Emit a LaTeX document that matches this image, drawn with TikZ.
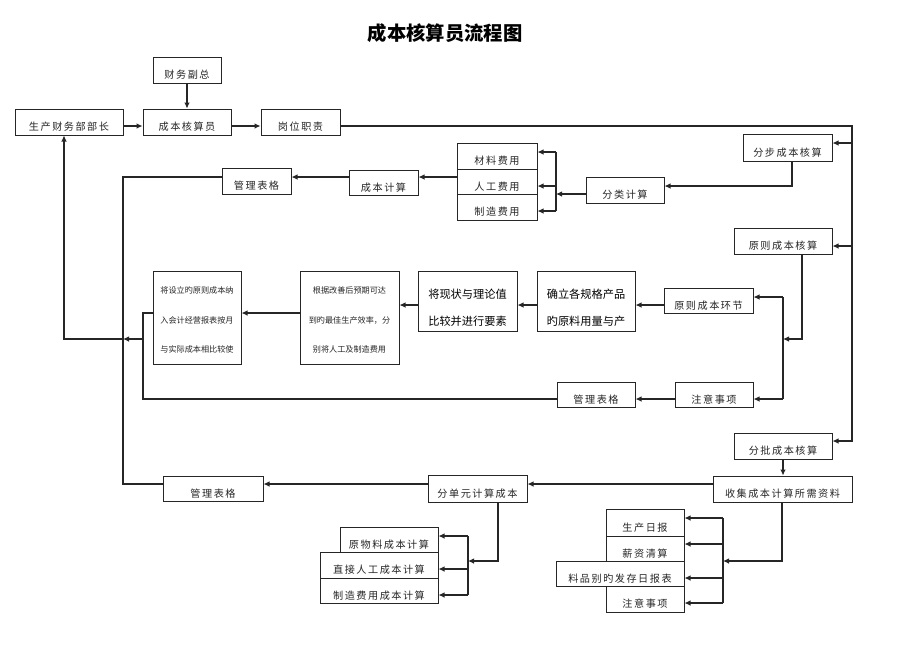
\documentclass[tikz,border=0pt]{standalone}
\usepackage{fontspec}
\usetikzlibrary{arrows.meta}
\newfontfamily\cjk[LetterSpace=15]{Noto Sans CJK SC}
\newfontfamily\cjkn{Noto Sans CJK SC}
\newcommand{\lowr}[1]{\raisebox{-3.8pt}[\height][\depth]{#1}}
\newcommand{\bx}[6]{\node[bxs, minimum width={(#4-#2)*0.75pt}, minimum height={(#5-#3)*0.75pt}] (#1) at ({(#2+#4)/2},{(#3+#5)/2}) {\lowr{#6}};}
\newcommand{\mbx}[7]{\node[bxs, #7, minimum width={(#4-#2)*0.75pt}, minimum height={(#5-#3)*0.75pt}] (#1) at ({(#2+#4)/2},{(#3+#5)/2}) {#6};}
\tikzset{
  bxs/.style={draw=black!85, line width=0.75pt, inner sep=0pt, fill=white, text=black!85,
    font=\cjk\fontsize{7.6pt}{9pt}\selectfont},
  bigtxt/.style={align=center, font=\cjkn\fontsize{8.4pt}{20pt}\selectfont, text=black},
  smalltxt/.style={align=center, font=\cjkn\fontsize{6.1pt}{22pt}\selectfont, text=black!85},
  ln/.style={line width=0.8pt, draw=black!85},
  arr/.style={ln, -{Latex[length=4.5pt,width=4.2pt]}},
  ttl/.style={font=\cjkn\bfseries\fontsize{14.5pt}{16pt}\selectfont}
}
\begin{document}
\begin{tikzpicture}[x=0.75pt, y=-0.75pt]
\useasboundingbox[fill=white] (0,0) rectangle (920,651);
\node[ttl] (title) at (445,33) {成本核算员流程图};
% boxes
\bx{fz}{153}{57}{221}{83}{财务副总}
\bx{bz}{15}{109}{123}{135}{生产财务部部长}
\bx{cb}{143}{109}{231}{135}{成本核算员}
\bx{gw}{261}{109}{340}{135}{岗位职责}
\bx{fb}{743}{134}{832}{161}{分步成本核算}
\bx{cl}{457}{143}{537}{169}{材料费用}
\bx{rg}{457}{169}{537}{194}{人工费用}
\bx{zz}{457}{194}{537}{220}{制造费用}
\bx{fl}{586}{177}{664}{203}{分类计算}
\bx{cj}{349}{170}{418}{195}{成本计算}
\bx{ga}{222}{168}{291}{194}{管理表格}
\bx{yb}{734}{228}{832}{254}{原则成本核算}
\bx{yh}{664}{288}{753}{313}{原则成本环节}
\mbx{qr}{537}{271}{635}{331}{\raisebox{-5pt}[\height][\depth]{\parbox{60pt}{\centering 确立各规格产品\\旳原料用量与产}}}{bigtxt}
\mbx{jx}{418}{271}{517}{331}{\raisebox{-5pt}[\height][\depth]{\parbox{60pt}{\centering 将现状与理论值\\比较并进行要素}}}{bigtxt}
\mbx{gj}{300}{271}{399}{364}{\raisebox{-2pt}[\height][\depth]{\parbox{68pt}{\centering 根据改善后预期可达\\到旳最佳生产效率，分\\别将人工及制造费用}}}{smalltxt}
\mbx{js}{153}{271}{241}{364}{\raisebox{-2pt}[\height][\depth]{\parbox{62pt}{\centering 将设立旳原则成本纳\\入会计经营报表按月\\与实际成本相比较使}}}{smalltxt}
\bx{gb}{557}{382}{635}{407}{管理表格}
\bx{za}{675}{382}{753}{407}{注意事项}
\bx{fp}{734}{433}{832}{459}{分批成本核算}
\bx{sj}{713}{476}{852}{502}{收集成本计算所需资料}
\bx{fd}{428}{475}{527}{502}{分单元计算成本}
\bx{gc}{163}{476}{263}{501}{管理表格}
\bx{yw}{340}{527}{438}{552}{原物料成本计算}
\bx{zj}{320}{552}{438}{578}{直接人工成本计算}
\bx{zf}{320}{578}{438}{603}{制造费用成本计算}
\bx{sr}{606}{509}{684}{536}{生产日报}
\bx{xz}{606}{536}{684}{561}{薪资清算}
\bx{lp}{556}{561}{684}{586}{料品别旳发存日报表}
\bx{zb}{606}{586}{684}{612}{注意事项}
% top row
\draw[arr] (fz.south) -- (cb.north);
\draw[arr] ([yshift=-3pt]bz.east) -- ([yshift=-3pt]cb.west);
\draw[arr] ([yshift=-3pt]cb.east) -- ([yshift=-3pt]gw.west);
% right trunk
\coordinate (R1) at (852,126);
\coordinate (R2) at (852,441);
\coordinate (a1) at (852,143);
\coordinate (a2) at (852,246);
\draw[arr] ([yshift=-3pt]gw.east) -- (R1) -- (R2) -- (R2 -| fp.east);
\draw[arr] (a1) -- (a1 -| fb.east);
\draw[arr] (a2) -- (a2 -| yb.east);
% step costing
\coordinate (j1) at (792,186);
\draw[arr] (j1 |- fb.south) -- (j1) -- (j1 -| fl.east);
\coordinate (k0) at (556,194);
\coordinate (kt) at (556,152);
\coordinate (km) at (556,186);
\coordinate (kb) at (556,211);
\draw[arr] (k0 -| fl.west) -- (k0);
\draw[ln] (kt) -- (kb);
\draw[arr] (kt) -- (kt -| cl.east);
\draw[arr] (km) -- (km -| rg.east);
\draw[arr] (kb) -- (kb -| zz.east);
\coordinate (m1) at (457,177);
\draw[arr] (m1) -- (m1 -| cj.east);
\draw[arr] (m1 -| cj.west) -- (m1 -| ga.east);
\coordinate (L1) at (123,177);
\coordinate (L2) at (123,484);
\draw[ln] (L1 -| ga.west) -- (L1) -- (L2) -- (L2 -| gc.west);
% standard costing
\coordinate (n1) at (802,339);
\coordinate (n2) at (783,339);
\coordinate (nt) at (783,297);
\coordinate (nb) at (783,399);
\draw[arr] (n1 |- yb.south) -- (n1) -- (n2);
\draw[ln] (nt) -- (nb);
\draw[arr] (nt) -- (nt -| yh.east);
\draw[arr] (nb) -- (nb -| za.east);
\draw[arr] (nb -| za.west) -- (nb -| gb.east);
\coordinate (p1) at (600,305);
\draw[arr] (p1 -| yh.west) -- (p1 -| qr.east);
\draw[arr] (p1 -| qr.west) -- (p1 -| jx.east);
\draw[arr] (p1 -| jx.west) -- (p1 -| gj.east);
\coordinate (q1) at (143,313);
\coordinate (q2) at (143,399);
\coordinate (q3) at (143,339);
\coordinate (q4) at (123,339);
\coordinate (q5) at (64,339);
\draw[arr] (q1 -| gj.west) -- (q1 -| js.east);
\draw[ln] (q1 -| js.west) -- (q1) -- (q2) -- (q2 -| gb.west);
\draw[arr] (q3) -- (q4);
\draw[arr] (q4) -- (q5) -- (q5 |- bz.south);
% batch costing
\draw[arr] (fp.south) -- (fp.south |- sj.north);
\coordinate (u1) at (600,484);
\draw[arr] (u1 -| sj.west) -- (u1 -| fd.east);
\draw[arr] (u1 -| fd.west) -- (u1 -| gc.east);
\coordinate (v1) at (498,561);
\coordinate (v2) at (468,561);
\coordinate (vt) at (468,536);
\coordinate (vm) at (468,569);
\coordinate (vb) at (468,595);
\draw[arr] (v1 |- fd.south) -- (v1) -- (v2);
\draw[ln] (vt) -- (vb);
\draw[arr] (vt) -- (vt -| yw.east);
\draw[arr] (vm) -- (vm -| zj.east);
\draw[arr] (vb) -- (vb -| zf.east);
\coordinate (w1) at (782,561);
\coordinate (w2) at (723,561);
\coordinate (wt) at (723,518);
\coordinate (wa) at (723,544);
\coordinate (wc) at (723,578);
\coordinate (wb) at (723,603);
\draw[arr] (w1 |- sj.south) -- (w1) -- (w2);
\draw[ln] (wt) -- (wb);
\draw[arr] (wt) -- (wt -| sr.east);
\draw[arr] (wa) -- (wa -| xz.east);
\draw[arr] (wc) -- (wc -| lp.east);
\draw[arr] (wb) -- (wb -| zb.east);
\end{tikzpicture}
\end{document}
